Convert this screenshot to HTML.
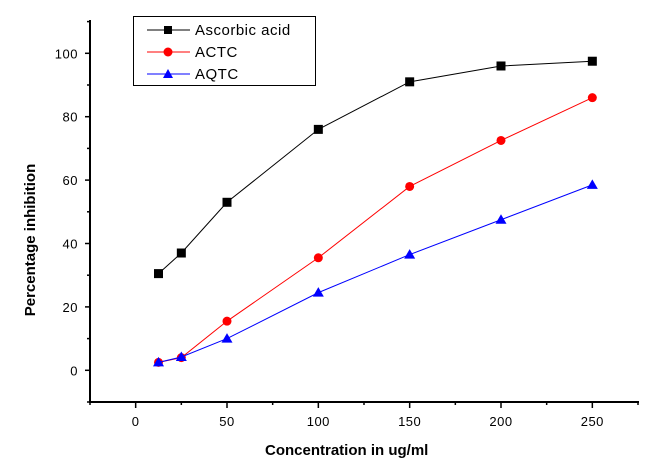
<!DOCTYPE html>
<html><head><meta charset="utf-8"><style>
html,body{margin:0;padding:0;background:#fff;}
svg{display:block;font-family:"Liberation Sans",Arial,sans-serif;}
</style></head><body>
<svg id="chart" width="665" height="463" xmlns="http://www.w3.org/2000/svg">
<g id="axes"></g><g id="series"></g>
<g>
<rect x="133.5" y="16.5" width="182" height="69" fill="#fff" stroke="#000" stroke-width="1"/>
<g><line x1="147" y1="30" x2="190" y2="30" stroke="#000"/><rect x="164" y="26" width="8" height="8" fill="#000"/><text x="195" y="35" font-size="15" letter-spacing="0.5">Ascorbic acid</text></g>
<g><line x1="147" y1="52" x2="190" y2="52" stroke="red"/><circle cx="168" cy="52" r="4.5" fill="red"/><text x="195" y="57" font-size="15" letter-spacing="0.5">ACTC</text></g>
<g><line x1="147" y1="74" x2="190" y2="74" stroke="blue"/><polygon points="168,69 173,78 163,78" fill="blue"/><text x="195" y="79" font-size="15" letter-spacing="0.5">AQTC</text></g>
</g>
<text x="265" y="455" font-size="15" font-weight="bold">Concentration in ug/ml</text>
<text transform="translate(35,240) rotate(-90)" text-anchor="middle" font-size="15" font-weight="bold">Percentage inhibition</text>
</svg>
<script>
const concentrations=[12.5,25,50,100,150,200,250];
const ascorbic=[30.5,37,53,76,91,96,97.5];
const actc=[2.5,4,15.5,35.5,58,72.5,86];
const aqtc=[2.5,4.2,10,24.5,36.5,47.5,58.5];
const xTicks=[0,50,100,150,200,250];
const yTicks=[0,20,40,60,80,100];
const NS="http://www.w3.org/2000/svg";
const X=v=>90+(v+25)*548/300;
const Y=v=>402-(v+10)*317/100;
function mk(tag,attrs,parent){const e=document.createElementNS(NS,tag);for(const k in attrs)e.setAttribute(k,attrs[k]);parent.appendChild(e);return e;}
const ax=document.getElementById('axes');
let l=mk('line',{x1:90,y1:20,x2:90,y2:403,stroke:'#000','stroke-width':2},ax);


l=mk('line',{x1:89,y1:402,x2:639,y2:402,stroke:'#000','stroke-width':2},ax);


for(let v=-10;v<=110;v+=10){const maj=v%20===0;mk('line',{x1:maj?85:87,y1:Y(v),x2:90,y2:Y(v),stroke:'#000','stroke-width':1.5},ax);}
for(let v=-25;v<=275;v+=25){const maj=v%50===0;mk('line',{x1:X(v),y1:402,x2:X(v),y2:maj?408:405,stroke:'#000','stroke-width':1.5},ax);}
yTicks.forEach(v=>{const t=mk('text',{x:78,y:Y(v)+5,'text-anchor':'end','font-size':13,'letter-spacing':0.5},ax);t.textContent=v;

});
xTicks.forEach(v=>{const t=mk('text',{x:X(v),y:426,'text-anchor':'middle','font-size':13,'letter-spacing':0.5},ax);t.textContent=v;

});
const sg=document.getElementById('series');
function series(vals,color,shape,name){
 const g=mk('g',{},sg);
 
 
 mk('polyline',{points:vals.map((v,i)=>X(concentrations[i])+','+Y(v)).join(' '),fill:'none',stroke:color,'stroke-width':1},g);
 vals.forEach((v,i)=>{const x=X(concentrations[i]),y=Y(v);let m;
  if(shape==='sq')m=mk('rect',{x:x-4.5,y:y-4.5,width:9,height:9,fill:color},g);
  else if(shape==='c')m=mk('circle',{cx:x,cy:y,r:4.5,fill:color},g);
  else m=mk('polygon',{points:`${x},${y-5.5} ${x+5.5},${y+4} ${x-5.5},${y+4}`,fill:color},g);
  
  });
}
series(ascorbic,'#000','sq','ascorbic-acid');
series(actc,'red','c','actc');
series(aqtc,'blue','t','aqtc');
</script>
</body></html>
